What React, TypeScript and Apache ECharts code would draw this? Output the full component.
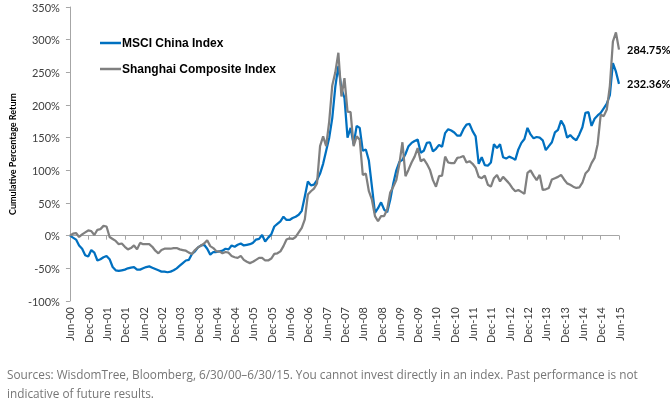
import React, { useEffect, useRef } from "react";
import * as echarts from "echarts";

const MONTH_NAMES = ["Jan", "Feb", "Mar", "Apr", "May", "Jun", "Jul", "Aug", "Sep", "Oct", "Nov", "Dec"];
const START_YEAR = 2000;
const START_MONTH = 5; // June
const MONTH_COUNT = 181; // Jun-00 .. Jun-15

const categories: string[] = [];
for (let i = 0; i < MONTH_COUNT; i++) {
  const m = (START_MONTH + i) % 12;
  const y = START_YEAR + Math.floor((START_MONTH + i) / 12);
  categories.push(`${MONTH_NAMES[m]}-${String(y % 100).padStart(2, "0")}`);
}

const yTicks = { min: -100, max: 350, interval: 50 };

const msciChina: number[] = [
  0, -3, -6, -15, -20, -30, -32, -22, -26, -38, -36, -33,
  -31, -36, -48, -53, -54, -53, -52, -50, -49, -48, -52, -52,
  -50, -48, -47, -49, -51, -53, -55, -55, -56, -55, -53, -50,
  -46, -42, -38, -37, -28, -24, -18, -15, -14, -20, -29, -25,
  -25, -24, -23, -20, -21, -15, -17, -14, -12, -15, -14, -13,
  -11, -6, -5, 1, -9, -3, 2, 14, 18, 22, 29, 24,
  24, 27, 29, 32, 38, 60, 83, 77, 78, 85, 95, 110,
  130, 150, 180, 228, 260, 225, 211, 150, 165, 140, 168, 165,
  130, 132, 115, 75, 35, 42, 51, 40, 36, 55, 80, 100,
  113, 116, 125, 137, 142, 145, 147, 127, 130, 142, 143, 129,
  133, 139, 136, 157, 163, 161, 158, 153, 153, 163, 170, 171,
  160, 152, 110, 120, 108, 107, 112, 140, 134, 140, 120, 118,
  121, 119, 116, 132, 142, 148, 165, 155, 149, 151, 150, 146,
  131, 137, 143, 158, 162, 176, 168, 150, 154, 149, 146, 155,
  166, 188, 189, 168, 179, 184, 188, 195, 202, 215, 264, 251,
  232.36,
];

const shanghaiComposite: number[] = [
  0, 3, 4, -2, 2, 5, 8, 7, 1, 9, 10, 15,
  14, -2, -5, -8, -13, -12, -17, -21, -19, -15, -21, -11,
  -13, -13, -13, -17, -23, -27, -22, -20, -20, -20, -19, -19,
  -21, -22, -23, -26, -28, -22, -18, -15, -12, -7, -16, -19,
  -24, -24, -27, -25, -26, -31, -33, -34, -31, -37, -40, -42,
  -40, -37, -34, -34, -38, -38, -35, -28, -27, -24, -16, -6,
  -4, -5, -2, 5, 12, 25, 63, 68, 72, 80, 137, 152,
  137, 175, 230, 250, 280, 213, 241, 190, 189, 137, 152, 147,
  93, 95, 68, 55, 30, 22, 30, 30, 40, 66, 75, 85,
  110, 143, 91, 101, 112, 121, 134, 114, 117, 110, 101, 85,
  75, 91, 92, 121, 112, 111, 111, 119, 120, 122, 112, 114,
  110, 104, 90, 88, 92, 78, 75, 88, 93, 83, 90, 85,
  80, 73, 68, 70, 67, 64, 96, 100, 92, 85, 93, 70,
  71, 73, 86, 88, 90, 93, 86, 80, 78, 75, 73, 74,
  81, 95, 100, 111, 119, 140, 185, 183, 193, 229, 297, 311,
  284.75,
];

const SERIES_NAMES = ["MSCI China Index", "Shanghai Composite Index"];
const FOOTNOTE =
  "Sources: WisdomTree, Bloomberg, 6/30/00\u20136/30/15. You cannot invest directly in an index. Past performance is not\nindicative of future results.";

const BLUE = "#0070C0";
const GRAY = "#808080";
const AXIS_GRAY = "#A6A6A6";
const FONT = "Lato, 'Liberation Sans', sans-serif";

export default function App() {
  const ref = useRef<HTMLDivElement>(null);

  useEffect(() => {
    if (!ref.current) return;
    const chart = echarts.init(ref.current, undefined, { renderer: "svg" });
    chart.setOption({
      animation: false,
      textStyle: { fontFamily: FONT },
      grid: { left: 56, right: 51, top: 7, bottom: 103 },
      xAxis: [
        {
          type: "category",
          data: categories,
          boundaryGap: false,
          position: "bottom",
          axisLine: { show: false, onZero: false },
          axisTick: { show: false },
          axisLabel: {
            interval: 5,
            rotate: 90,
            margin: 6,
            fontSize: 11,
            color: "#404040",
            fontFamily: FONT,
          },
          splitLine: { show: false },
        },
        {
          type: "category",
          data: categories,
          boundaryGap: false,
          position: "bottom",
          axisLine: { show: true, onZero: true, onZeroAxisIndex: 0, lineStyle: { color: AXIS_GRAY, width: 1 } },
          axisTick: { show: true, interval: 5, length: 4, lineStyle: { color: AXIS_GRAY } },
          axisLabel: { show: false },
          splitLine: { show: false },
        },
      ],
      yAxis: {
        type: "value",
        min: yTicks.min,
        max: yTicks.max,
        interval: yTicks.interval,
        name: "Cumulative Percentage Return",
        nameLocation: "middle",
        nameRotate: 90,
        nameGap: 44,
        nameTextStyle: { fontSize: 9, fontWeight: "bold", color: "#000", fontFamily: FONT },
        axisLine: { show: true, lineStyle: { color: AXIS_GRAY } },
        axisTick: { show: true, length: 4, lineStyle: { color: AXIS_GRAY } },
        axisLabel: {
          formatter: (v: number) => `${v}%`,
          margin: 10,
          fontSize: 11,
          color: "#404040",
          fontFamily: FONT,
        },
        splitLine: { show: false },
      },
      series: [
        {
          name: SERIES_NAMES[0],
          type: "line",
          xAxisIndex: 0,
          data: msciChina,
          symbol: "none",
          lineStyle: { color: BLUE, width: 2.25 },
          itemStyle: { color: BLUE },
          endLabel: {
            show: true,
            distance: 8,
            formatter: (p: any) => `${Number(p.value).toFixed(2)}%`,
            fontSize: 11,
            fontWeight: "bold",
            color: "#000",
            fontFamily: FONT,
          },
        },
        {
          name: SERIES_NAMES[1],
          type: "line",
          xAxisIndex: 0,
          data: shanghaiComposite,
          symbol: "none",
          lineStyle: { color: GRAY, width: 2.25 },
          itemStyle: { color: GRAY },
          endLabel: {
            show: true,
            distance: 8,
            formatter: (p: any) => `${Number(p.value).toFixed(2)}%`,
            fontSize: 11,
            fontWeight: "bold",
            color: "#000",
            fontFamily: FONT,
          },
        },
      ],
      graphic: [
        { type: "line", shape: { x1: 100, y1: 43, x2: 121, y2: 43 }, style: { stroke: BLUE, lineWidth: 2.5 } },
        {
          type: "text",
          x: 122,
          y: 43,
          style: { text: SERIES_NAMES[0], fontSize: 12, fontWeight: "bold", fill: "#000", font: `bold 12px ${FONT}`, verticalAlign: "middle" },
        },
        { type: "line", shape: { x1: 100, y1: 69, x2: 121, y2: 69 }, style: { stroke: GRAY, lineWidth: 2.5 } },
        {
          type: "text",
          x: 122,
          y: 69,
          style: { text: SERIES_NAMES[1], fontSize: 12, fontWeight: "bold", fill: "#000", font: `bold 12px ${FONT}`, verticalAlign: "middle" },
        },
        {
          type: "text",
          x: 7,
          y: 365,
          style: { text: FOOTNOTE, font: "11.8px 'Open Sans', sans-serif", fill: "#767676", lineHeight: 18.5 },
        },
      ],
    });
    return () => chart.dispose();
  }, []);

  return <div ref={ref} style={{ position: "fixed", left: 0, top: 0, width: 670, height: 404 }} />;
}
